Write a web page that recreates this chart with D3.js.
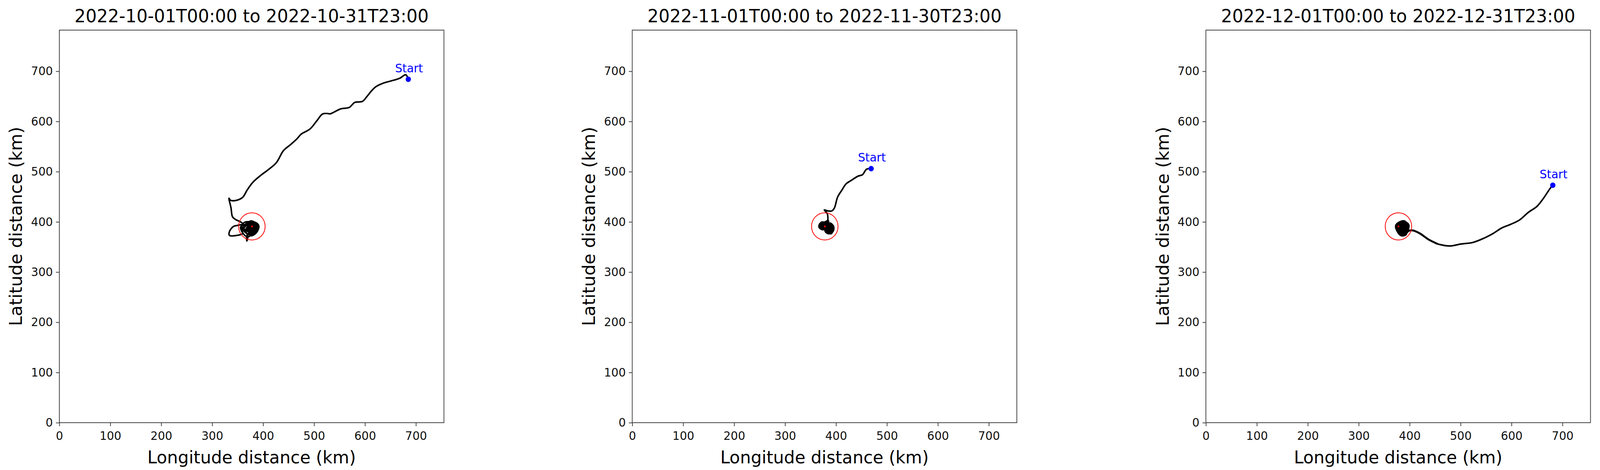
<!DOCTYPE html>
<html>
<head>
<meta charset="utf-8">
<script src="https://cdn.jsdelivr.net/npm/d3@7"></script>
<style>
  html, body { margin: 0; padding: 0; background: #fff; overflow: hidden; width: 100vw; height: 100vh; }
  svg { display: block; width: 100vw; height: 100vh; }
  text { font-family: "DejaVu Sans", sans-serif; }
</style>
</head>
<body>
<svg id="chart" viewBox="0 0 4206 1202" preserveAspectRatio="none"></svg>
<script>
// panel titles
const titles = [
	"2022-10-01T00:00 to 2022-10-31T23:00",
	"2022-11-01T00:00 to 2022-11-30T23:00",
	"2022-12-01T00:00 to 2022-12-31T23:00",
];

const ticks = [0, 100, 200, 300, 400, 500, 600, 700];

// target circle (centre, radius in km)
const target = { x: 378, y: 391, r: 26 };

// trajectories, [lon km, lat km], start first
const trackOct = [
	[685, 684], [680, 693], [668, 686], [652, 681], [635, 676], [621, 669], [612, 660],
	[604, 650], [595, 640], [580, 638], [569, 628], [552, 625], [540, 619], [532, 615],
	[517, 615], [506, 602], [492, 585], [475, 575], [466, 565], [454, 554], [440, 542],
	[426, 518], [409, 503], [397, 494], [380, 479], [369, 464], [360, 449], [348, 443],
	[336, 443], [333, 447], [337, 428], [340, 410], [347, 404], [354, 401], [360, 396],
	[350, 393], [342, 391], [334, 381], [334, 373], [348, 373], [360, 377], [358, 385],
	[362, 398], [375, 400], [385, 396], [388, 388], [380, 378], [370, 370], [360, 378],
	[356, 390], [365, 395], [378, 396], [386, 392], [382, 382], [372, 375], [362, 384],
	[366, 392], [378, 392], [384, 386], [376, 380], [368, 385], [372, 390], [380, 388],
	[374, 380], [368, 372], [368, 362], [370, 372], [362, 390], [372, 400], [382, 398],
	[390, 392], [386, 380], [376, 374], [364, 380], [358, 392],
];

const trackNov = [
	[469, 506], [460, 505], [452, 494], [443, 491], [429, 482], [420, 476], [412, 464],
	[403, 449], [397, 428], [392, 422], [383, 422], [377, 424], [383, 416], [384, 401],
	[378, 398], [370, 396], [368, 390], [374, 386], [382, 390], [388, 396], [394, 390],
	[393, 382], [386, 378], [380, 382], [384, 390], [390, 388], [388, 380], [380, 384],
	[374, 392], [372, 398], [380, 396], [386, 390], [392, 384], [390, 378], [384, 382],
	[378, 390], [372, 388], [376, 394],
];

const trackDec = [
	[681, 473], [676, 467], [662, 446], [650, 431], [633, 419], [616, 404], [598, 395],
	[581, 388], [564, 377], [547, 368], [524, 359], [501, 356], [478, 352], [455, 356],
	[437, 365], [420, 377], [406, 383], [398, 382], [392, 376], [384, 374], [378, 380],
	[374, 392], [380, 398], [390, 400], [398, 394], [396, 384], [388, 378], [380, 384],
	[378, 392], [386, 398], [394, 392], [392, 382], [384, 380], [376, 388], [382, 396],
	[392, 396], [396, 388], [388, 376], [380, 378], [384, 392], [390, 388],
];

const tracks = [trackOct, trackNov, trackDec];

const svg = d3.select("#chart");
const panelLeft = [156, 1662, 3170];
const W = 1011, H = 1004, TOP = 77;

const x = d3.scaleLinear().domain([0, 755]).range([0, W]);
const y = d3.scaleLinear().domain([0, 782]).range([H, 0]);

tracks.forEach((track, i) => {
	const g = svg.append("g").attr("transform", `translate(${panelLeft[i]}, ${TOP})`);

	// path
	const line = d3.line().x((d) => x(d[0])).y((d) => y(d[1])).curve(d3.curveCatmullRom);
	g.append("path")
		.datum(track.slice(0, 14))
		.attr("d", line)
		.attr("fill", "none")
		.attr("stroke", "#000")
		.attr("stroke-width", 4)
		.attr("stroke-linejoin", "round");
	g.append("path")
		.datum(track.slice(13))
		.attr("d", line)
		.attr("fill", "none")
		.attr("stroke", "#000")
		.attr("stroke-width", i === 0 ? 4 : 5)
		.attr("stroke-linejoin", "round");
	// dense blob near target
	const blob = track.filter((d) => Math.hypot(d[0] - target.x - 5, d[1] - target.y + 3) < 16);
	g.append("path")
		.datum(blob)
		.attr("d", d3.line().x((d) => x(d[0])).y((d) => y(d[1])).curve(d3.curveCatmullRomClosed))
		.attr("fill", "#000")
		.attr("stroke", "#000")
		.attr("stroke-width", 8)
		.attr("stroke-linejoin", "round");

	// target circle
	g.append("circle")
		.attr("cx", x(target.x)).attr("cy", y(target.y))
		.attr("r", x(target.r) - x(0))
		.attr("fill", "none").attr("stroke", "#f00").attr("stroke-width", 2);
	g.append("circle")
		.attr("cx", x(target.x)).attr("cy", y(target.y))
		.attr("r", 2.5).attr("fill", "#f00");

	// start marker
	const s = track[0];
	g.append("circle").attr("cx", x(s[0])).attr("cy", y(s[1])).attr("r", 7).attr("fill", "#00f");
	g.append("text")
		.attr("x", x(s[0]) + 2).attr("y", y(s[1]) - 18)
		.attr("text-anchor", "middle")
		.attr("fill", "#00f")
		.style("font-size", "30px")
		.text("Start");

	// frame
	g.append("rect").attr("width", W).attr("height", H)
		.attr("fill", "none").attr("stroke", "#444").attr("stroke-width", 2);

	const xa = g.append("g").attr("transform", `translate(0, ${H})`)
		.call(d3.axisBottom(x).tickValues(ticks).tickSize(9).tickPadding(8));
	const ya = g.append("g")
		.call(d3.axisLeft(y).tickValues(ticks).tickSize(9).tickPadding(8));
	[xa, ya].forEach((a) => {
		a.select(".domain").remove();
		a.selectAll("line").attr("stroke", "#444").attr("stroke-width", 2);
		a.selectAll("text").style("font-size", "30px").attr("fill", "#111");
	});
	xa.selectAll("text").attr("dy", "0.9em");

	g.append("text")
		.attr("x", W / 2).attr("y", -20)
		.attr("text-anchor", "middle")
		.style("font-size", "46px")
		.text(titles[i]);
	g.append("text")
		.attr("x", W / 2).attr("y", H + 104)
		.attr("text-anchor", "middle")
		.style("font-size", "45px")
		.text("Longitude distance (km)");
	g.append("text")
		.attr("transform", `translate(-98, ${H / 2}) rotate(-90)`)
		.attr("text-anchor", "middle")
		.style("font-size", "45px")
		.text("Latitude distance (km)");
});
</script>
</body>
</html>
